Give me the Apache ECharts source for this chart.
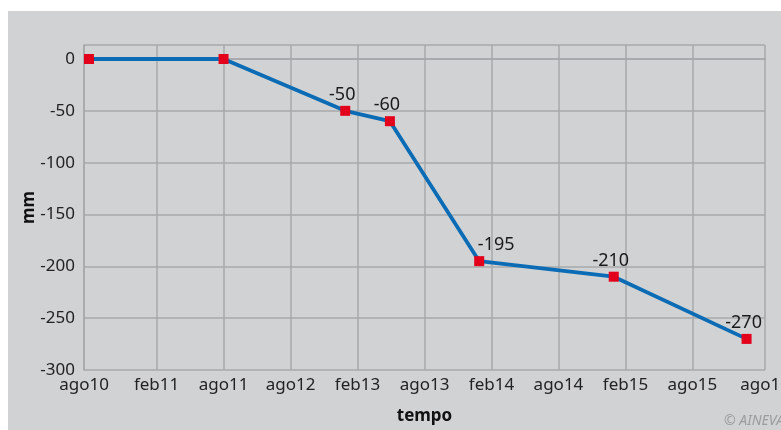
<!DOCTYPE html>
<html>
<head>
<meta charset="utf-8">
<script src="https://cdn.jsdelivr.net/npm/echarts@6/dist/echarts.min.js"></script>
<style>
  html, body { margin: 0; padding: 0; background: #fff; }
  #chart { width: 781px; height: 430px; }
</style>
</head>
<body>
<div id="chart"></div>
<script>
// asse x in mesi da ago 2010 (tacche come nel grafico originale)
var tickMonths = [0, 6.5, 12.5, 18.5, 24.5, 30.5, 36.5, 42.5, 48.5, 54.5, 61];
var tickLabels = ['ago10', 'feb11', 'ago11', 'ago12', 'feb13', 'ago13', 'feb14', 'ago14', 'feb15', 'ago15', 'ago15'];
var pointMonths = [0.45, 12.5, 23.4, 27.4, 35.4, 47.45, 59.35];
var pointValues = [0, 0, -50, -60, -195, -210, -270];
var yTicks = [-300, -250, -200, -150, -100, -50, 0];

var grigio = '#a7a8aa';

var seriesData = pointMonths.map(function (m, i) {
  var d = { value: [m, pointValues[i]] };
  if (i < 2) {
    d.label = { show: false };
  } else if (pointValues[i] === -195) {
    d.label = { offset: [17, 0] };
  }
  return d;
});

var chart = echarts.init(document.getElementById('chart'));
chart.setOption({
  animation: false,
  grid: { left: 84, top: 45, right: 16, bottom: 60, containLabel: false, outerBoundsMode: 'none' },
  graphic: [
    {
      type: 'rect', z: -10, silent: true,
      shape: { x: 8, y: 11, width: 781, height: 430 },
      style: { fill: '#d1d2d4' }
    },
    {
      type: 'text', left: 724, top: 414, silent: true,
      style: { text: '© AINEVA', fill: '#9b9c9e', font: 'italic 14px "Noto Sans"' }
    }
  ],
  xAxis: {
    type: 'value',
    min: 0,
    max: 61,
    name: 'tempo',
    nameLocation: 'middle',
    nameGap: 38,
    nameTextStyle: { fontFamily: 'Noto Sans', fontSize: 17, fontWeight: 'bold', color: '#111' },
    axisLine: { show: true, lineStyle: { color: grigio, width: 1.5 } },
    axisTick: { show: false, customValues: tickMonths },
    axisLabel: {
      customValues: tickMonths,
      margin: 7,
      fontFamily: 'Noto Sans',
      fontSize: 17,
      color: '#222',
      formatter: function (v) { return tickLabels[tickMonths.indexOf(v)]; }
    },
    splitLine: { show: true, lineStyle: { color: grigio, width: 1.5 } }
  },
  yAxis: {
    type: 'value',
    min: -300,
    max: 13.5,
    interval: 50,
    name: 'mm',
    nameLocation: 'middle',
    nameRotate: 90,
    nameGap: 46,
    nameMoveOverlap: false,
    nameTextStyle: { fontFamily: 'Noto Sans', fontSize: 17, fontWeight: 'bold', color: '#111' },
    axisLine: { show: true, lineStyle: { color: grigio, width: 1.5 } },
    axisTick: { show: false },
    axisLabel: {
      margin: 9,
      showMaxLabel: false,
      fontFamily: 'Noto Sans',
      fontSize: 17,
      color: '#222',
      formatter: function (v) { return yTicks.indexOf(v) >= 0 ? String(v) : ''; }
    },
    splitLine: { show: true, lineStyle: { color: grigio, width: 1.5 } }
  },
  series: [{
    type: 'line',
    data: seriesData,
    symbol: 'rect',
    symbolSize: 10,
    itemStyle: { color: '#e3001b' },
    lineStyle: { color: '#0b6cb5', width: 3.8 },
    label: {
      show: true,
      position: 'top',
      distance: 2,
      offset: [-3, 0],
      fontFamily: 'Noto Sans',
      fontSize: 18,
      color: '#1a1a1a',
      formatter: function (p) { return String(p.value[1]); }
    },
    z: 5
  }]
});
</script>
</body>
</html>
